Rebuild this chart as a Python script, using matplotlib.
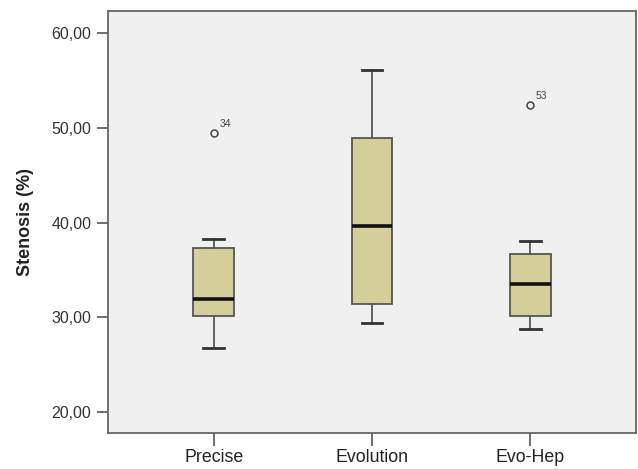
import matplotlib
matplotlib.use("Agg")
import matplotlib.pyplot as plt

categories = ["Precise", "Evolution", "Evo-Hep"]
whisker_low = [26.78, 29.38, 28.75]
q1 = [30.18, 31.38, 30.15]
median = [31.91, 39.66, 33.52]
q3 = [37.28, 48.94, 36.65]
whisker_high = [38.29, 56.10, 38.08]
outliers = [[49.40], [], [52.35]]
outlier_ids = [["34"], [], ["53"]]
yticks = [20, 30, 40, 50, 60]
ytick_labels = ["20,00", "30,00", "40,00", "50,00", "60,00"]

plt.rcParams['font.family'] = ['Liberation Sans', 'DejaVu Sans']

fig = plt.figure(figsize=(6.38, 4.69), dpi=100)
ax = fig.add_axes([108/638, 1-433/469, (636-108)/638, (433-11)/469])
ax.set_facecolor('#f0f0f0')

stats = []
for i, c in enumerate(categories):
    stats.append(dict(label=c, whislo=whisker_low[i], q1=q1[i], med=median[i],
                      q3=q3[i], whishi=whisker_high[i], fliers=outliers[i]))
pos = [1, 2, 3]
edge = '#555555'
ax.bxp(stats, positions=pos, widths=0.256, patch_artist=True, showfliers=True,
       boxprops=dict(facecolor='#d4cf98', edgecolor=edge, linewidth=1.3),
       medianprops=dict(color='#111111', linewidth=2.6),
       whiskerprops=dict(color=edge, linewidth=1.3),
       capprops=dict(color='#333333', linewidth=2.0),
       capwidths=0.128,
       flierprops=dict(marker='o', markersize=5, markerfacecolor='none',
                       markeredgecolor='#444444', markeredgewidth=1.1))

for i in range(len(categories)):
    for v, lab in zip(outliers[i], outlier_ids[i]):
        ax.annotate(lab, (pos[i], v), xytext=(4, 3), textcoords='offset points',
                    fontsize=7.5, color='#444444', ha='left', va='bottom')

ax.set_xlim(1-0.667, 3+0.667)
ax.set_ylim(17.82, 62.29)
ax.set_yticks(yticks)
ax.set_yticklabels(ytick_labels)
ax.set_xticks(pos)
ax.set_xticklabels(categories)
ax.tick_params(axis='y', direction='out', length=8, width=1.2, color='#555555',
               labelsize=11.5, labelcolor='#333333', pad=4)
ax.tick_params(axis='x', direction='out', length=9, width=1.2, color='#555555',
               labelsize=12.8, labelcolor='#222222', pad=2.5)
for s in ax.spines.values():
    s.set_color('#666666')
    s.set_linewidth(1.3)
ax.set_ylabel('Stenosis (%)', fontsize=13, fontweight='bold', color='#222222')
ax.yaxis.set_label_coords((25-108)/528, 0.5)
ax.yaxis.label.set_verticalalignment('center')

fig.savefig('out.png', dpi=100, facecolor='white')
